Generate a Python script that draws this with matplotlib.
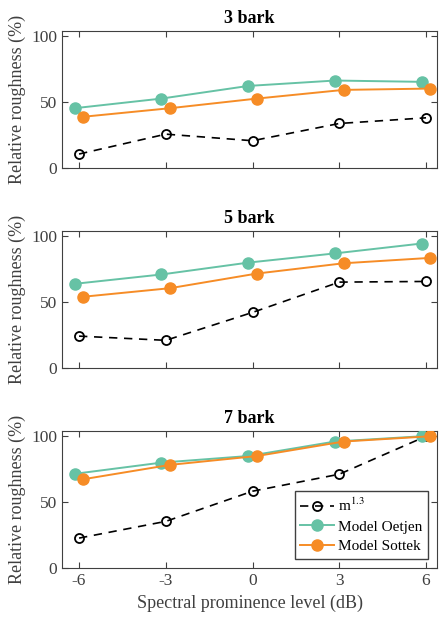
import matplotlib
matplotlib.use("Agg")
import matplotlib.pyplot as plt
import numpy as np

plt.rcParams['font.family'] = ['Liberation Serif', 'DejaVu Serif']
plt.rcParams['mathtext.fontset'] = 'stix'

levels = [-6, -3, 0, 3, 6]
titles = ["3 bark", "5 bark", "7 bark"]

m13 = [
    [10.6, 25.7, 20.7, 33.8, 38.1],
    [24.2, 21.0, 42.2, 65.2, 65.7],
    [22.7, 35.4, 58.3, 71.2, 100.0],
]
oetjen = [
    [45.4, 52.7, 62.3, 66.4, 65.4],
    [63.9, 71.0, 80.0, 87.0, 94.5],
    [71.5, 80.0, 85.0, 96.0, 100.0],
]
sottek = [
    [38.9, 45.4, 52.7, 59.3, 60.3],
    [54.1, 60.6, 71.7, 79.5, 83.6],
    [67.4, 78.3, 85.0, 96.0, 100.0],
]

c_oet = "#66c2a5"
c_sot = "#f68c26"
c_axis = "#404040"
shift = 0.15

fig = plt.figure(figsize=(4.4, 6.17), dpi=100)
tops = [31, 231, 431]
for i in range(3):
    top = tops[i]
    ax = fig.add_axes([62 / 440, 1 - (top + 137) / 617, 375 / 440, 137 / 617])
    x = np.array(levels, dtype=float)
    ax.plot(x, m13[i], '--o', color='black', mfc='none', mec='black',
            ms=6.5, mew=1.3, lw=1.2, dashes=(5, 4), label=r'm$^{1.3}$', zorder=3)
    ax.plot(x - shift, oetjen[i], '-o', color=c_oet, ms=8, lw=1.4,
            label='Model Oetjen', zorder=4)
    ax.plot(x + shift, sottek[i], '-o', color=c_sot, ms=8, lw=1.4,
            label='Model Sottek', zorder=5)
    ax.set_xlim(-6.59, 6.38)
    ax.set_ylim(0, 104)
    ax.set_yticks([0, 50, 100])
    ax.set_xticks(levels)
    ax.tick_params(direction='in', top=True, right=True, colors=c_axis,
                   labelsize=12.5, length=4, width=0.8)
    for s in ax.spines.values():
        s.set_color(c_axis)
        s.set_linewidth(0.8)
    ax.set_title(titles[i], fontsize=13, fontweight='bold', pad=6)
    ax.set_ylabel('Relative roughness (%)', fontsize=13, color=c_axis)
    if i < 2:
        ax.set_xticklabels([])
    else:
        ax.set_xticklabels([str(v) for v in levels])
        ax.set_xlabel('Spectral prominence level (dB)', fontsize=13, color=c_axis)
        leg = ax.legend(loc='lower right', fontsize=11, fancybox=False,
                        framealpha=1, edgecolor=c_axis, borderpad=0.35,
                        handlelength=2.2, handletextpad=0.3, labelspacing=0.4,
                        borderaxespad=0.6)
        leg.get_frame().set_linewidth(1.0)

fig.savefig("out.png", dpi=100)
plt.close()
